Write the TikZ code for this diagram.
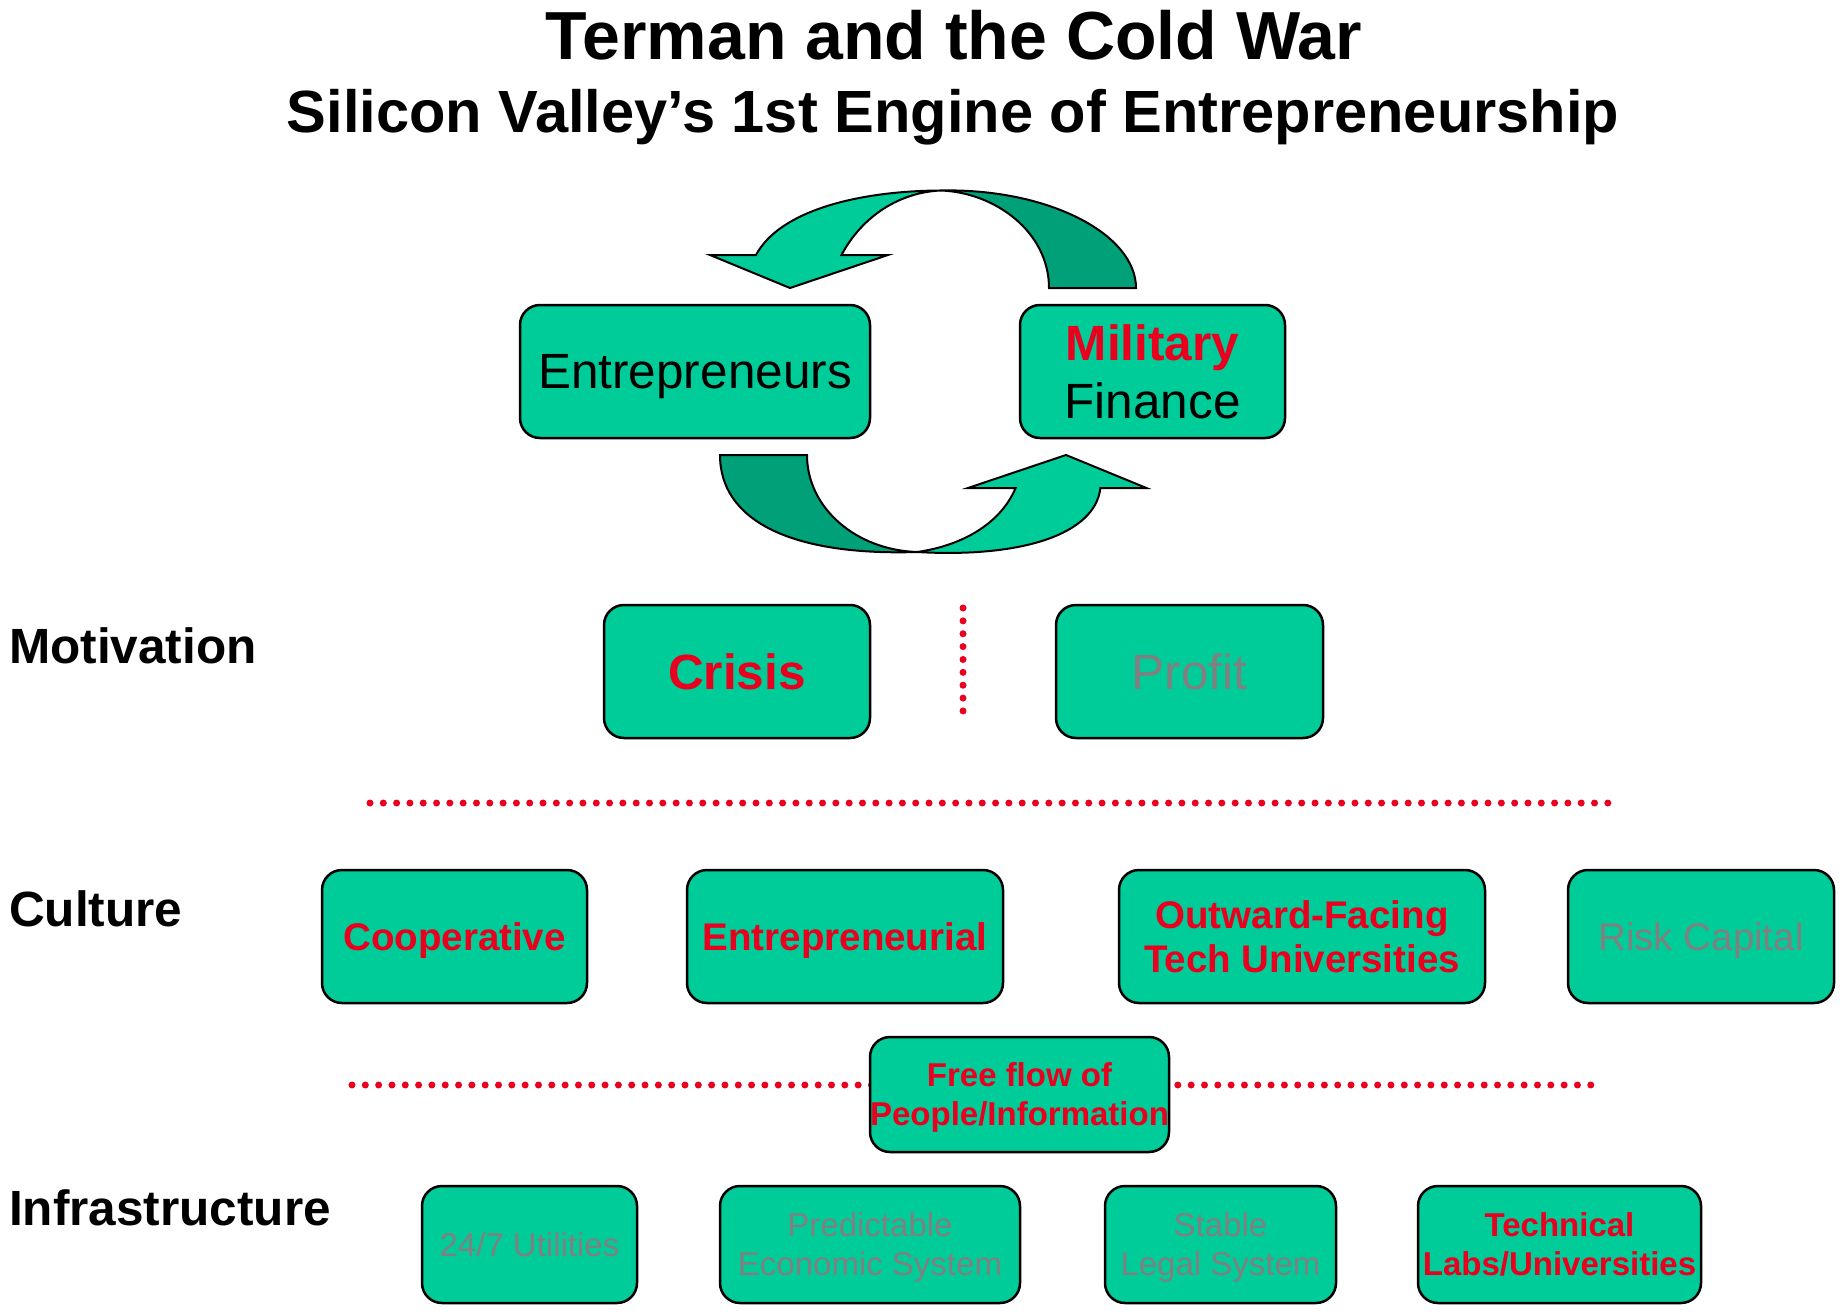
\documentclass[tikz,border=0pt]{standalone}
\usepackage{fontspec}
\setmainfont{Liberation Sans}
\definecolor{boxgreen}{RGB}{0,204,153}
\definecolor{darkgreen}{RGB}{0,160,120}
\definecolor{hired}{RGB}{232,0,30}
\definecolor{dimgray}{RGB}{128,128,128}
\newcommand{\nodp}[1]{\raisebox{0pt}[\height][0pt]{#1}}
\begin{document}
\begin{tikzpicture}[x=1pt,y=-1pt,
  box/.style={draw=black, line width=2.5pt, rounded corners=20pt, fill=boxgreen,
    inner sep=0pt, align=center},
  big/.style={font=\fontsize{49.5}{58}\selectfont},
  mid/.style={font=\fontsize{38.5}{44}\selectfont\bfseries, text=hired},
  smallred/.style={font=\fontsize{33}{39}\selectfont\bfseries, text=hired},
  smallgray/.style={font=\fontsize{33}{39}\selectfont, text=dimgray},
  rowlabel/.style={anchor=west, inner sep=0pt, font=\fontsize{49.5}{58}\selectfont\bfseries},
  dotline/.style={draw=hired, line width=7pt, line cap=round},
  ribbon/.style={draw=black, line width=2pt, line join=miter}
]
\useasboundingbox (0,0) rectangle (1842,1316);

% titles
\node[anchor=base, inner sep=0pt, font=\fontsize{68}{78}\selectfont\bfseries] (title) at (954,60) {Terman and the Cold War};
\node[anchor=base, inner sep=0pt, font=\fontsize{59.6}{70}\selectfont\bfseries] (subtitle) at (953,133) {Silicon Valley’s 1st Engine of Entrepreneurship};

% cycle arrows
\draw[ribbon, fill=darkgreen] (940,190.5) .. controls (1048,188) and (1136,234) .. (1136,288)
  -- (1049,288) .. controls (1049,232) and (995,192) .. (940,190.5) -- cycle;
\draw[ribbon, fill=boxgreen] (756,255) .. controls (780,210) and (860,191) .. (940,190.5)
  .. controls (895,193) and (860,220) .. (841.5,255) -- (888,255) -- (790,288) -- (710,255) -- cycle;
\draw[ribbon, fill=darkgreen] (720,455) .. controls (720,520) and (790,556) .. (917,552)
  .. controls (856,550) and (807,508) .. (807,455) -- cycle;
\draw[ribbon, fill=boxgreen] (917,552) .. controls (960,546) and (1000,525) .. (1015.6,488)
  -- (968,488) -- (1066,455) -- (1146.4,488) -- (1100.4,488)
  .. controls (1095,535) and (1020,558) .. (917,552) -- cycle;

% top boxes
\node[box, big, minimum width=350pt, minimum height=133pt] (entre) at (695,371.5) {\nodp{Entrepreneurs}};
\node[box, big, minimum width=265pt, minimum height=133pt] (mil) at (1152.5,371.5)
  {\textcolor{hired}{\bfseries Military}\\Finance};

% row labels
\node[rowlabel] (motiv) at (9,646) {Motivation};
\node[rowlabel] (cult) at (9,909) {Culture};
\node[rowlabel] (infra) at (9,1208) {Infrastructure};

% motivation
\node[box, minimum width=266pt, minimum height=133pt, text=hired, font=\fontsize{49.5}{58}\selectfont\bfseries] (crisis) at (737,671.5) {Crisis};
\node[box, big, minimum width=267pt, minimum height=133pt, text=dimgray] (profit) at (1189.5,671.5) {Profit};
\coordinate (v1) at (963,608);
\coordinate (v2) at (963,711);
\draw[dotline, dash pattern=on 0pt off 12.87pt] (v1) -- (v2);

% separator 1
\coordinate (h1a) at (370,803);
\coordinate (h1b) at (1609,803);
\draw[dotline, dash pattern=on 0pt off 13.31pt] (h1a) -- (h1b);

% culture
\node[box, mid, minimum width=265pt, minimum height=133pt] (coop) at (454.5,936.5) {\nodp{Cooperative}};
\node[box, mid, minimum width=316pt, minimum height=133pt] (entrep) at (845,936.5) {\nodp{Entrepreneurial}};
\node[box, mid, minimum width=366pt, minimum height=133pt] (outward) at (1302,936.5) {Outward-Facing\\Tech Universities};
\node[box, minimum width=266pt, minimum height=133pt, font=\fontsize{38.5}{44}\selectfont, text=dimgray] (risk) at (1701,936.5) {\nodp{Risk Capital}};

% separator 2
\coordinate (h2a) at (352,1085);
\coordinate (h2b) at (1592,1085);
\draw[dotline, dash pattern=on 0pt off 13.32pt] (h2a) -- (h2b);
\node[box, smallred, minimum width=299pt, minimum height=115pt] (free) at (1019.5,1094.5) {Free flow of\\\nodp{People/Information}};

% infrastructure
\node[box, smallgray, minimum width=215pt, minimum height=117pt] (util) at (529.5,1244.5) {24/7 Utilities};
\node[box, smallgray, minimum width=300pt, minimum height=117pt] (econ) at (870,1244.5) {Predictable\\\nodp{Economic System}};
\node[box, smallgray, minimum width=231pt, minimum height=117pt] (legal) at (1220.5,1244.5) {Stable\\\nodp{Legal System}};
\node[box, smallred, minimum width=283pt, minimum height=117pt] (labs) at (1559.5,1244.5) {Technical\\Labs/Universities};
\end{tikzpicture}
\end{document}
